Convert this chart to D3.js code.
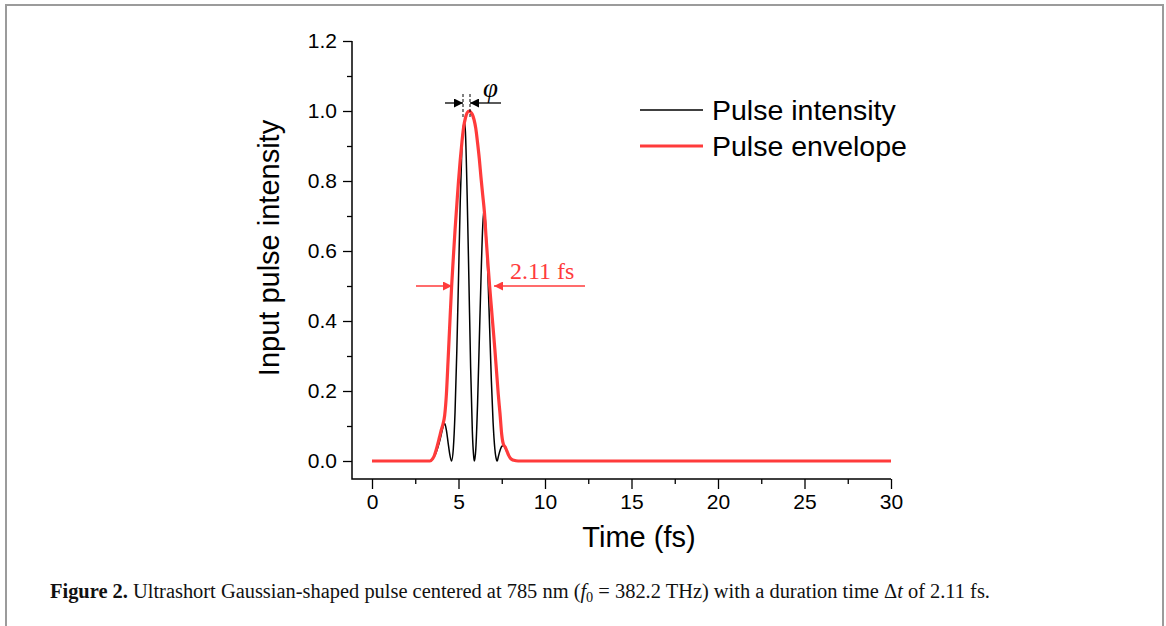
<!DOCTYPE html>
<html>
<head>
<meta charset="utf-8">
<script src="https://cdn.jsdelivr.net/npm/d3@7"></script>
<style>
  html, body { margin: 0; padding: 0; background: #fff; }
  svg { display: block; }
</style>
</head>
<body>
<svg id="chart" width="1166" height="626"></svg>
<script>
// ---- Data ----
const xTicks = [0, 5, 10, 15, 20, 25, 30];
const yTicks = [0.0, 0.2, 0.4, 0.6, 0.8, 1.0, 1.2];
const seriesNames = ["Pulse intensity", "Pulse envelope"];

// Pulse intensity (black), time in fs
const intensityTime = [0, 3.3, 3.4, 3.5, 3.6, 3.7, 3.8, 3.9, 4.0, 4.1, 4.2, 4.3, 4.4, 4.5, 4.6,
  4.7, 4.8, 4.9, 5.0, 5.1, 5.2, 5.3, 5.35, 5.4, 5.5, 5.6, 5.7, 5.8, 5.9, 5.92,
  6.0, 6.1, 6.2, 6.3, 6.4, 6.47, 6.55, 6.6, 6.7, 6.8, 6.9, 7.0, 7.1, 7.2, 7.24,
  7.3, 7.4, 7.5, 7.6, 7.7, 7.8, 7.9, 8.0, 8.1, 8.2, 8.4, 30];
const intensityValue = [0, 0, 0.002, 0.006, 0.013, 0.024, 0.038, 0.055, 0.075, 0.096, 0.108, 0.088, 0.052, 0.018, 0,
  0.035, 0.14, 0.31, 0.52, 0.74, 0.9, 0.962, 0.97, 0.94, 0.76, 0.52, 0.27, 0.085, 0.004, 0,
  0.034, 0.16, 0.34, 0.52, 0.67, 0.717, 0.69, 0.65, 0.53, 0.38, 0.23, 0.11, 0.035, 0.003, 0,
  0.012, 0.03, 0.042, 0.044, 0.037, 0.027, 0.017, 0.009, 0.004, 0.002, 0, 0];

// Pulse envelope (red)
const envelopeTime = [0, 2.5, 3.35, 3.5, 3.6, 3.7, 3.8, 3.9, 4.0, 4.1, 4.2, 4.3, 4.4, 4.5, 4.6,
  4.7, 4.8, 4.9, 5.0, 5.1, 5.2, 5.3, 5.4, 5.5, 5.63, 5.7, 5.8, 5.9, 6.0, 6.1, 6.2, 6.3,
  6.4, 6.5, 6.6, 6.7, 6.8, 6.9, 7.0, 7.1, 7.2, 7.3, 7.4, 7.5, 7.6, 7.7, 7.8, 7.9, 8.0,
  8.1, 8.2, 8.45, 30];
const envelopeValue = [0, 0, 0, 0.006, 0.015, 0.03, 0.048, 0.068, 0.088, 0.105, 0.13, 0.19, 0.29, 0.395, 0.497,
  0.58, 0.66, 0.73, 0.80, 0.86, 0.912, 0.955, 0.98, 0.995, 1.0, 0.997, 0.99, 0.975, 0.95, 0.91, 0.865, 0.81,
  0.76, 0.71, 0.635, 0.565, 0.5, 0.44, 0.38, 0.32, 0.255, 0.19, 0.135, 0.075, 0.047, 0.04, 0.028, 0.016, 0.008,
  0.004, 0.002, 0, 0];

// ---- Layout ----
const svg = d3.select("#chart");
const X0 = 372, X1 = 891, Y0 = 461, Y1 = 41;
const x = d3.scaleLinear().domain([0, 30]).range([X0, X1]);
const y = d3.scaleLinear().domain([0, 1.2]).range([Y0, Y1]);
const axisLeftX = 352, axisBottomY = 479;
const sans = "'Liberation Sans', Arial, sans-serif";
const serif = "'Liberation Serif', 'Times New Roman', serif";
const RED = "#ff3b3b";

// frame border (top, left, right)
svg.append("path")
  .attr("d", "M6,626 V5 H1163 V626")
  .attr("fill", "none").attr("stroke", "#9b9b9b").attr("stroke-width", 2);

// axes
const xAxis = d3.axisBottom(x).tickValues(xTicks).tickSize(10).tickPadding(5).tickFormat(d3.format("d"));
const xMinor = d3.axisBottom(x).tickValues(d3.range(2.5, 30, 5)).tickSize(5).tickFormat("");
const yAxis = d3.axisLeft(y).tickValues(yTicks).tickSize(9).tickPadding(6).tickFormat(d3.format(".1f"));
const yMinor = d3.axisLeft(y).tickValues(d3.range(0.1, 1.2, 0.2)).tickSize(5).tickFormat("");

function styleAxis(g) {
  g.select(".domain").remove();
  g.selectAll("line").attr("stroke", "#000").attr("stroke-width", 1.3);
  g.selectAll("text").attr("fill", "#000").style("font-family", sans).style("font-size", "21px");
}
svg.append("g").attr("transform", `translate(0,${axisBottomY})`).call(xAxis).call(styleAxis);
svg.append("g").attr("transform", `translate(0,${axisBottomY})`).call(xMinor).call(styleAxis);
svg.append("g").attr("transform", `translate(${axisLeftX},0)`).call(yAxis).call(styleAxis);
svg.append("g").attr("transform", `translate(${axisLeftX},0)`).call(yMinor).call(styleAxis);
// axis lines (L shape)
svg.append("path")
  .attr("d", `M${axisLeftX},${Y1} V${axisBottomY} H${X1}`)
  .attr("fill", "none").attr("stroke", "#000").attr("stroke-width", 1.5);

// axis titles
svg.append("text").attr("x", 639).attr("y", 547).attr("text-anchor", "middle")
  .style("font-family", sans).style("font-size", "29px").text("Time (fs)");
svg.append("text").attr("transform", "translate(279,248) rotate(-90)").attr("text-anchor", "middle")
  .style("font-family", sans).style("font-size", "29px").text("Input pulse intensity");

// lines
const line = d3.line().x(d => x(d[0])).y(d => y(d[1])).curve(d3.curveMonotoneX);
const intensityData = intensityTime.map((t, i) => [t, intensityValue[i]]);
const envelopeData = envelopeTime.map((t, i) => [t, envelopeValue[i]]);
svg.append("path").datum(intensityData).attr("d", line)
  .attr("fill", "none").attr("stroke", "#000").attr("stroke-width", 1.5);
svg.append("path").datum(envelopeData).attr("d", line)
  .attr("fill", "none").attr("stroke", RED).attr("stroke-width", 3.2).attr("stroke-linejoin", "round");

// legend
const legend = svg.append("g");
[["#000", 1.5], [RED, 3.2]].forEach(([c, w], i) => {
  const ly = 110 + i * 36;
  legend.append("line").attr("x1", 640).attr("x2", 703).attr("y1", ly).attr("y2", ly)
    .attr("stroke", c).attr("stroke-width", w);
  legend.append("text").attr("x", 712).attr("y", ly + 10)
    .style("font-family", sans).style("font-size", "28.5px").text(seriesNames[i]);
});

// arrow markers
const defs = svg.append("defs");
function marker(id, color) {
  defs.append("marker").attr("id", id).attr("viewBox", "0 0 10 10")
    .attr("refX", 10).attr("refY", 5).attr("markerWidth", 13).attr("markerHeight", 9)
    .attr("markerUnits", "userSpaceOnUse").attr("orient", "auto")
    .append("path").attr("d", "M0,0 L10,5 L0,10 Z").attr("fill", color);
}
marker("arrK", "#000");
marker("arrR", RED);

// phi annotation
const phiY = 103;
svg.append("line").attr("x1", 445).attr("x2", 463).attr("y1", phiY).attr("y2", phiY)
  .attr("stroke", "#000").attr("stroke-width", 1.3).attr("marker-end", "url(#arrK)");
svg.append("line").attr("x1", 501).attr("x2", 470).attr("y1", phiY).attr("y2", phiY)
  .attr("stroke", "#000").attr("stroke-width", 1.3).attr("marker-end", "url(#arrK)");
[463, 470].forEach(px => {
  svg.append("line").attr("x1", px).attr("x2", px).attr("y1", 94).attr("y2", 118)
    .attr("stroke", "#000").attr("stroke-width", 1).attr("stroke-dasharray", "3,2");
});
svg.append("text").attr("x", 483).attr("y", 97)
  .style("font-family", serif).style("font-style", "italic").style("font-size", "27px").text("φ");

// FWHM annotation
const fwY = 286;
svg.append("line").attr("x1", 416).attr("x2", 452).attr("y1", fwY).attr("y2", fwY)
  .attr("stroke", RED).attr("stroke-width", 1.6).attr("marker-end", "url(#arrR)");
svg.append("line").attr("x1", 585).attr("x2", 494).attr("y1", fwY).attr("y2", fwY)
  .attr("stroke", RED).attr("stroke-width", 1.6).attr("marker-end", "url(#arrR)");
svg.append("text").attr("x", 510).attr("y", 279).attr("fill", RED)
  .style("font-family", serif).style("font-size", "24px").text("2.11 fs");

// caption
const cap = svg.append("text").attr("x", 50).attr("y", 598)
  .style("font-family", serif).style("font-size", "20px").attr("fill", "#111");
cap.append("tspan").style("font-weight", "bold").text("Figure 2.");
cap.append("tspan").text(" Ultrashort Gaussian-shaped pulse centered at 785 nm (");
cap.append("tspan").style("font-style", "italic").text("f");
cap.append("tspan").attr("dy", 4).style("font-size", "14px").text("0");
cap.append("tspan").attr("dy", -4).text(" = 382.2 THz) with a duration time Δ");
cap.append("tspan").style("font-style", "italic").text("t");
cap.append("tspan").text(" of 2.11 fs.");
cap.attr("textLength", 940).attr("lengthAdjust", "spacingAndGlyphs");
</script>
</body>
</html>
